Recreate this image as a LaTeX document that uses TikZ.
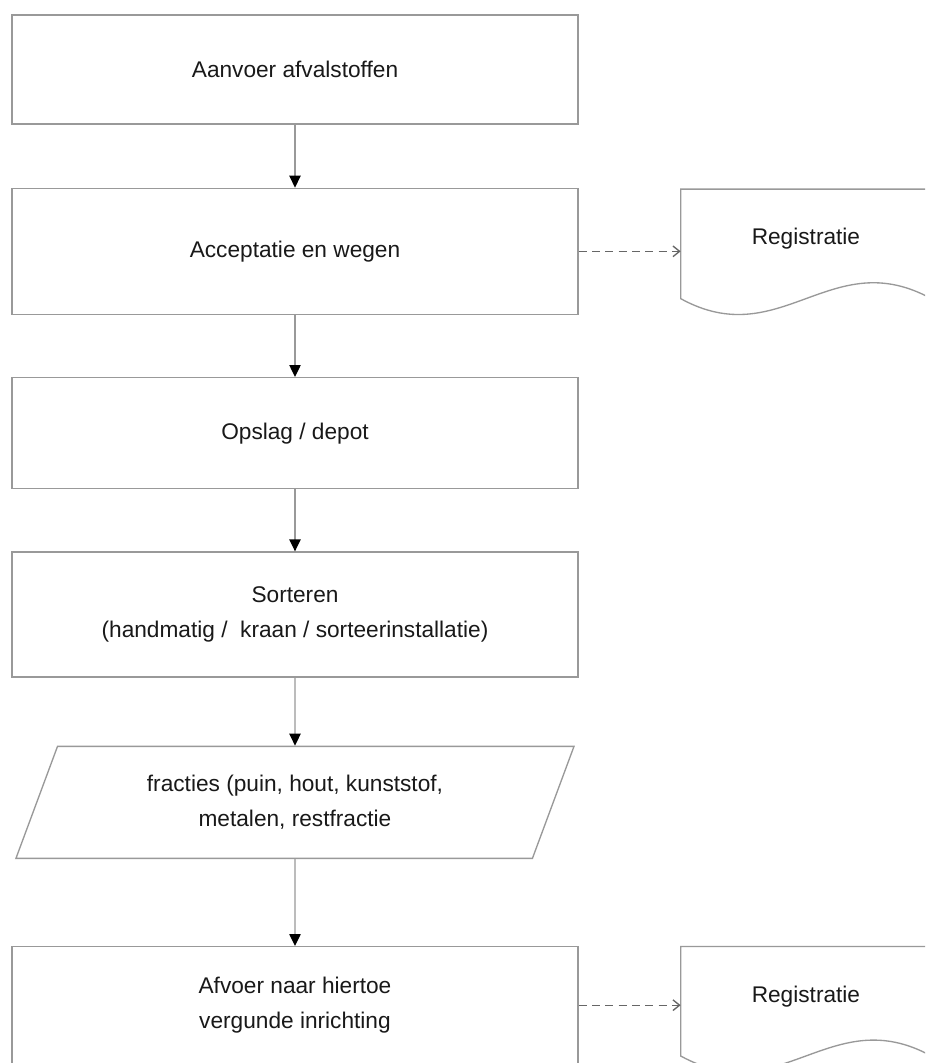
\documentclass[tikz,border=0pt]{standalone}
\usepackage{fontspec}
\setmainfont{Liberation Sans}
\usetikzlibrary{shapes.geometric,arrows.meta,positioning}

\begin{document}
\begin{tikzpicture}[
  x=0.75pt, y=-0.75pt,
  node distance=46.5pt,
  boxfont/.style={font=\fontsize{17}{26}\selectfont, text=black!90},
  stepbox/.style={rectangle, draw=black!40, line width=1pt, align=center,
              minimum width=424.5pt, boxfont},
  fracbox/.style={trapezium, draw=black!40, line width=1pt, align=center,
              trapezium left angle=67, trapezium right angle=113,
              trapezium stretches=true, minimum width=420pt,
              minimum height=84pt, boxfont},
  regbox/.style={rectangle, align=center, minimum width=187.5pt,
              minimum height=81.75pt, text depth=11pt, boxfont},
  flow/.style={draw=black!40, line width=1pt,
              -{Triangle[length=9pt,width=8.5pt,color=black]}},
  link/.style={draw=black!60, line width=1pt, dash pattern=on 6pt off 4pt,
              -{Straight Barb[length=5pt,width=8pt]}},
  docline/.style={draw=black!40, line width=1pt}
]
  \clip (0,0) rectangle (925,1063);
  \fill[white] (0,0) rectangle (925,1063);

  \node[stepbox, minimum height=81.75pt] (aanvoer) at (295,69.5) {Aanvoer afvalstoffen};
  \node[stepbox, minimum height=94.5pt, below=47.25pt of aanvoer] (accept) {Acceptatie en wegen};
  \node[stepbox, minimum height=83.25pt, below=of accept] (opslag) {Opslag / depot};
  \node[stepbox, minimum height=93.75pt, below=of opslag] (sorteren) {Sorteren\\(handmatig /~ kraan / sorteerinstallatie)};
  \node[fracbox, below=51pt of sorteren] (fracties) {fracties (puin, hout, kunststof,\\metalen, restfractie};
  \node[stepbox, minimum height=87.75pt, below=65.25pt of fracties] (afvoer) {Afvoer naar hiertoe\\vergunde inrichting};
  \node[regbox, right=76.5pt of accept, yshift=5.6pt] (reg1) {Registratie};
  \node[regbox, right=76.5pt of afvoer, yshift=3pt] (reg2) {Registratie};

  % document outline of the two registrations
  \foreach \d in {reg1,reg2}{
    \draw[docline] (\d.south east) -- (\d.north east) -- (\d.north west) -- (\d.south west)
      .. controls +(100,55) and +(-100,-55) .. (\d.south east);
  }

  \draw[flow] (aanvoer) -- (accept);
  \draw[flow] (accept) -- (opslag);
  \draw[flow] (opslag) -- (sorteren);
  \draw[flow] (sorteren) -- (fracties);
  \draw[flow] (fracties) -- (afvoer);
  \draw[link] (accept.east) -- (accept.east -| reg1.west);
  \draw[link] (afvoer.east) -- (afvoer.east -| reg2.west);
\end{tikzpicture}
\end{document}
